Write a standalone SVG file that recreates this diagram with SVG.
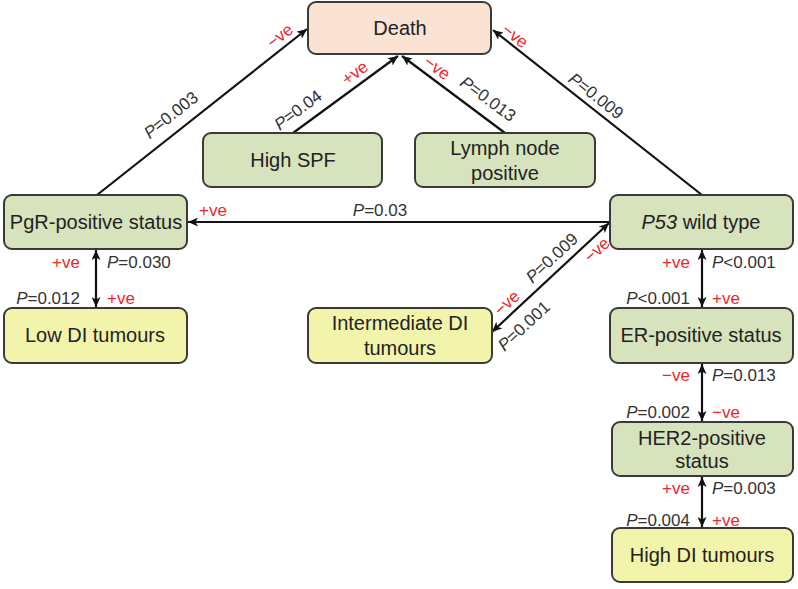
<svg xmlns="http://www.w3.org/2000/svg" width="798" height="589" viewBox="0 0 798 589">
<style>
.box{stroke:#3a3a3a;stroke-width:2}
.death{fill:#fbe3d4}
.green{fill:#d7e3bd}
.yellow{fill:#f1f4aa}
.nt{font-family:"Liberation Sans",Arial,sans-serif;font-size:20px;fill:#222;text-anchor:middle;dominant-baseline:central}
.lb{font-family:"Liberation Sans",Arial,sans-serif;font-size:17px;fill:#333;dominant-baseline:central}
.red{fill:#f0252a}
.c{text-anchor:middle}
.e{text-anchor:end}
.s{text-anchor:start}
.ln{stroke:#111;stroke-width:2.2;fill:none}
</style>
<defs>
<marker id="arr" markerUnits="userSpaceOnUse" markerWidth="11" markerHeight="9" refX="10" refY="4.5" orient="auto-start-reverse">
<path d="M0,0 L10,4.5 L0,9 L2.5,4.5 z" fill="#111"/>
</marker>
</defs>
<rect width="798" height="589" fill="#fff"/>
<g id="connectors">
<path class="ln" d="M97,195 L307,29" marker-end="url(#arr)"/>
<path class="ln" d="M293,133 L398,56" marker-end="url(#arr)"/>
<path class="ln" d="M505,133 L402,56" marker-end="url(#arr)"/>
<path class="ln" d="M702,195 L493,30" marker-end="url(#arr)"/>
<path class="ln" d="M609,222 L188,222" marker-end="url(#arr)"/>
<path class="ln" d="M609,223 L492,332" marker-start="url(#arr)" marker-end="url(#arr)"/>
<path class="ln" d="M96,250 L96,307" marker-start="url(#arr)" marker-end="url(#arr)"/>
<path class="ln" d="M702,250 L702,307" marker-start="url(#arr)" marker-end="url(#arr)"/>
<path class="ln" d="M702,364 L702,421" marker-start="url(#arr)" marker-end="url(#arr)"/>
<path class="ln" d="M702,477 L702,527" marker-start="url(#arr)" marker-end="url(#arr)"/>
</g>
<g id="labels">
<text class="lb c" transform="translate(171,115) rotate(-38.2)"><tspan font-style="italic">P</tspan>=0.003</text>
<text class="lb c red" transform="translate(280,36) rotate(-38.2)">−ve</text>
<text class="lb c" transform="translate(298,110) rotate(-36.3)"><tspan font-style="italic">P</tspan>=0.04</text>
<text class="lb c red" transform="translate(355,73) rotate(-36.3)">+ve</text>
<text class="lb c" transform="translate(488,99) rotate(36.8)"><tspan font-style="italic">P</tspan>=0.013</text>
<text class="lb c red" transform="translate(437,68) rotate(36.8)">−ve</text>
<text class="lb c" transform="translate(596,96) rotate(38.3)"><tspan font-style="italic">P</tspan>=0.009</text>
<text class="lb c red" transform="translate(515,36) rotate(38.3)">−ve</text>
<text class="lb c" x="380" y="210"><tspan font-style="italic">P</tspan>=0.03</text>
<text class="lb c red" x="213" y="210">+ve</text>
<text class="lb c" transform="translate(552,258) rotate(-42.7)"><tspan font-style="italic">P</tspan>=0.009</text>
<text class="lb c red" transform="translate(597,250) rotate(-42.7)">−ve</text>
<text class="lb c red" transform="translate(507,303) rotate(-42.7)">−ve</text>
<text class="lb c" transform="translate(524,326) rotate(-42.7)"><tspan font-style="italic">P</tspan>=0.001</text>
<text class="lb e red" x="80" y="262">+ve</text>
<text class="lb s" x="107" y="262"><tspan font-style="italic">P</tspan>=0.030</text>
<text class="lb e" x="80" y="298"><tspan font-style="italic">P</tspan>=0.012</text>
<text class="lb s red" x="107" y="298">+ve</text>
<text class="lb e red" x="690" y="262">+ve</text>
<text class="lb s" x="712" y="262"><tspan font-style="italic">P</tspan>&lt;0.001</text>
<text class="lb e" x="690" y="298"><tspan font-style="italic">P</tspan>&lt;0.001</text>
<text class="lb s red" x="712" y="298">+ve</text>
<text class="lb e red" x="690" y="375">−ve</text>
<text class="lb s" x="712" y="375"><tspan font-style="italic">P</tspan>=0.013</text>
<text class="lb e" x="690" y="412"><tspan font-style="italic">P</tspan>=0.002</text>
<text class="lb s red" x="712" y="412">−ve</text>
<text class="lb e red" x="690" y="488">+ve</text>
<text class="lb s" x="712" y="488"><tspan font-style="italic">P</tspan>=0.003</text>
<text class="lb e" x="690" y="520"><tspan font-style="italic">P</tspan>=0.004</text>
<text class="lb s red" x="712" y="520">+ve</text>
</g>
<g id="death"><rect class="box death" x="308" y="2" width="183" height="52" rx="8"/><text class="nt" x="400" y="28">Death</text></g>
<g id="highspf"><rect class="box green" x="203" y="133" width="179" height="54" rx="8"/><text class="nt" x="293" y="160">High SPF</text></g>
<g id="lymph"><rect class="box green" x="415" y="133" width="180" height="54" rx="8"/><text class="nt" x="505" y="148">Lymph node</text><text class="nt" x="505" y="173">positive</text></g>
<g id="pgr"><rect class="box green" x="4" y="195" width="183" height="54" rx="8"/><text class="nt" x="96" y="222">PgR-positive status</text></g>
<g id="p53"><rect class="box green" x="610" y="195" width="183" height="54" rx="8"/><text class="nt" x="701" y="222"><tspan font-style="italic">P53</tspan> wild type</text></g>
<g id="lowdi"><rect class="box yellow" x="4" y="308" width="183" height="55" rx="8"/><text class="nt" x="95" y="335">Low DI tumours</text></g>
<g id="interdi"><rect class="box yellow" x="308" y="308" width="184" height="55" rx="8"/><text class="nt" x="400" y="323">Intermediate DI</text><text class="nt" x="400" y="348">tumours</text></g>
<g id="er"><rect class="box green" x="610" y="308" width="183" height="55" rx="8"/><text class="nt" x="701" y="335">ER-positive status</text></g>
<g id="her2"><rect class="box green" x="612" y="422" width="181" height="54" rx="8"/><text class="nt" x="702" y="438">HER2-positive</text><text class="nt" x="702" y="461">status</text></g>
<g id="highdi"><rect class="box yellow" x="612" y="528" width="181" height="54" rx="8"/><text class="nt" x="702" y="555">High DI tumours</text></g>
</svg>
